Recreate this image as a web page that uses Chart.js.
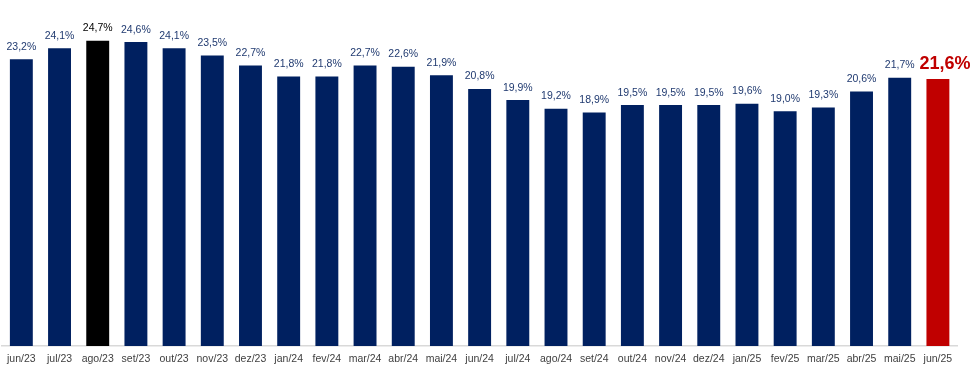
<!DOCTYPE html>
<html>
<head>
<meta charset="utf-8">
<script src="https://cdn.jsdelivr.net/npm/chart.js@4/dist/chart.umd.min.js"></script>
<style>
html,body{margin:0;padding:0;background:#fff;}
canvas{display:block;}
</style>
</head>
<body>
<canvas id="c" width="977" height="378"></canvas>
<script>
const categories = ["jun/23","jul/23","ago/23","set/23","out/23","nov/23","dez/23","jan/24","fev/24","mar/24","abr/24","mai/24","jun/24","jul/24","ago/24","set/24","out/24","nov/24","dez/24","jan/25","fev/25","mar/25","abr/25","mai/25","jun/25"];
const values = [23.2,24.1,24.7,24.6,24.1,23.5,22.7,21.8,21.8,22.7,22.6,21.9,20.8,19.9,19.2,18.9,19.5,19.5,19.5,19.6,19.0,19.3,20.6,21.7,21.6];
const highlightBlack = "ago/23";
const highlightRed = "jun/25";

const NAVY = "#002060", BLACK = "#000000", RED = "#C00000";
const barColors = categories.map(c => c === highlightBlack ? BLACK : (c === highlightRed ? RED : NAVY));
const labelColors = categories.map(c => c === highlightBlack ? "#000000" : (c === highlightRed ? RED : "#203A70"));

const valueLabels = {
  id: 'valueLabels',
  afterDatasetsDraw(chart) {
    const ctx = chart.ctx;
    const meta = chart.getDatasetMeta(0);
    ctx.save();
    ctx.textAlign = 'center';
    ctx.textBaseline = 'alphabetic';
    meta.data.forEach((bar, i) => {
      const isRed = categories[i] === highlightRed;
      ctx.font = isRed ? 'bold 18px "Liberation Sans", Arial, sans-serif' : '10.5px "Liberation Sans", Arial, sans-serif';
      ctx.fillStyle = labelColors[i];
      const txt = values[i].toFixed(1).replace('.', ',') + '%';
      ctx.fillText(txt, bar.x + (isRed ? 7 : 0), bar.y - (isRed ? 10.5 : 9.5));
    });
    ctx.restore();
  }
};

new Chart(document.getElementById('c'), {
  type: 'bar',
  data: {
    labels: categories,
    datasets: [{
      data: values,
      backgroundColor: barColors,
      borderWidth: 0,
      categoryPercentage: 1.0,
      barPercentage: 0.6
    }]
  },
  options: {
    responsive: false,
    animation: false,
    devicePixelRatio: 1,
    layout: { padding: { left: 2, right: 20, top: 0, bottom: 5.5 } },
    plugins: { legend: { display: false }, tooltip: { enabled: false } },
    scales: {
      x: {
        grid: { display: false, drawTicks: false },
        border: { display: true, color: '#D9D9D9', width: 1.5 },
        ticks: {
          color: '#404040',
          font: { family: '"Liberation Sans", Arial, sans-serif', size: 10.5 },
          padding: 7,
          maxRotation: 0,
          autoSkip: false
        }
      },
      y: {
        display: false,
        min: 0,
        max: 28
      }
    }
  },
  plugins: [valueLabels]
});
</script>
</body>
</html>
